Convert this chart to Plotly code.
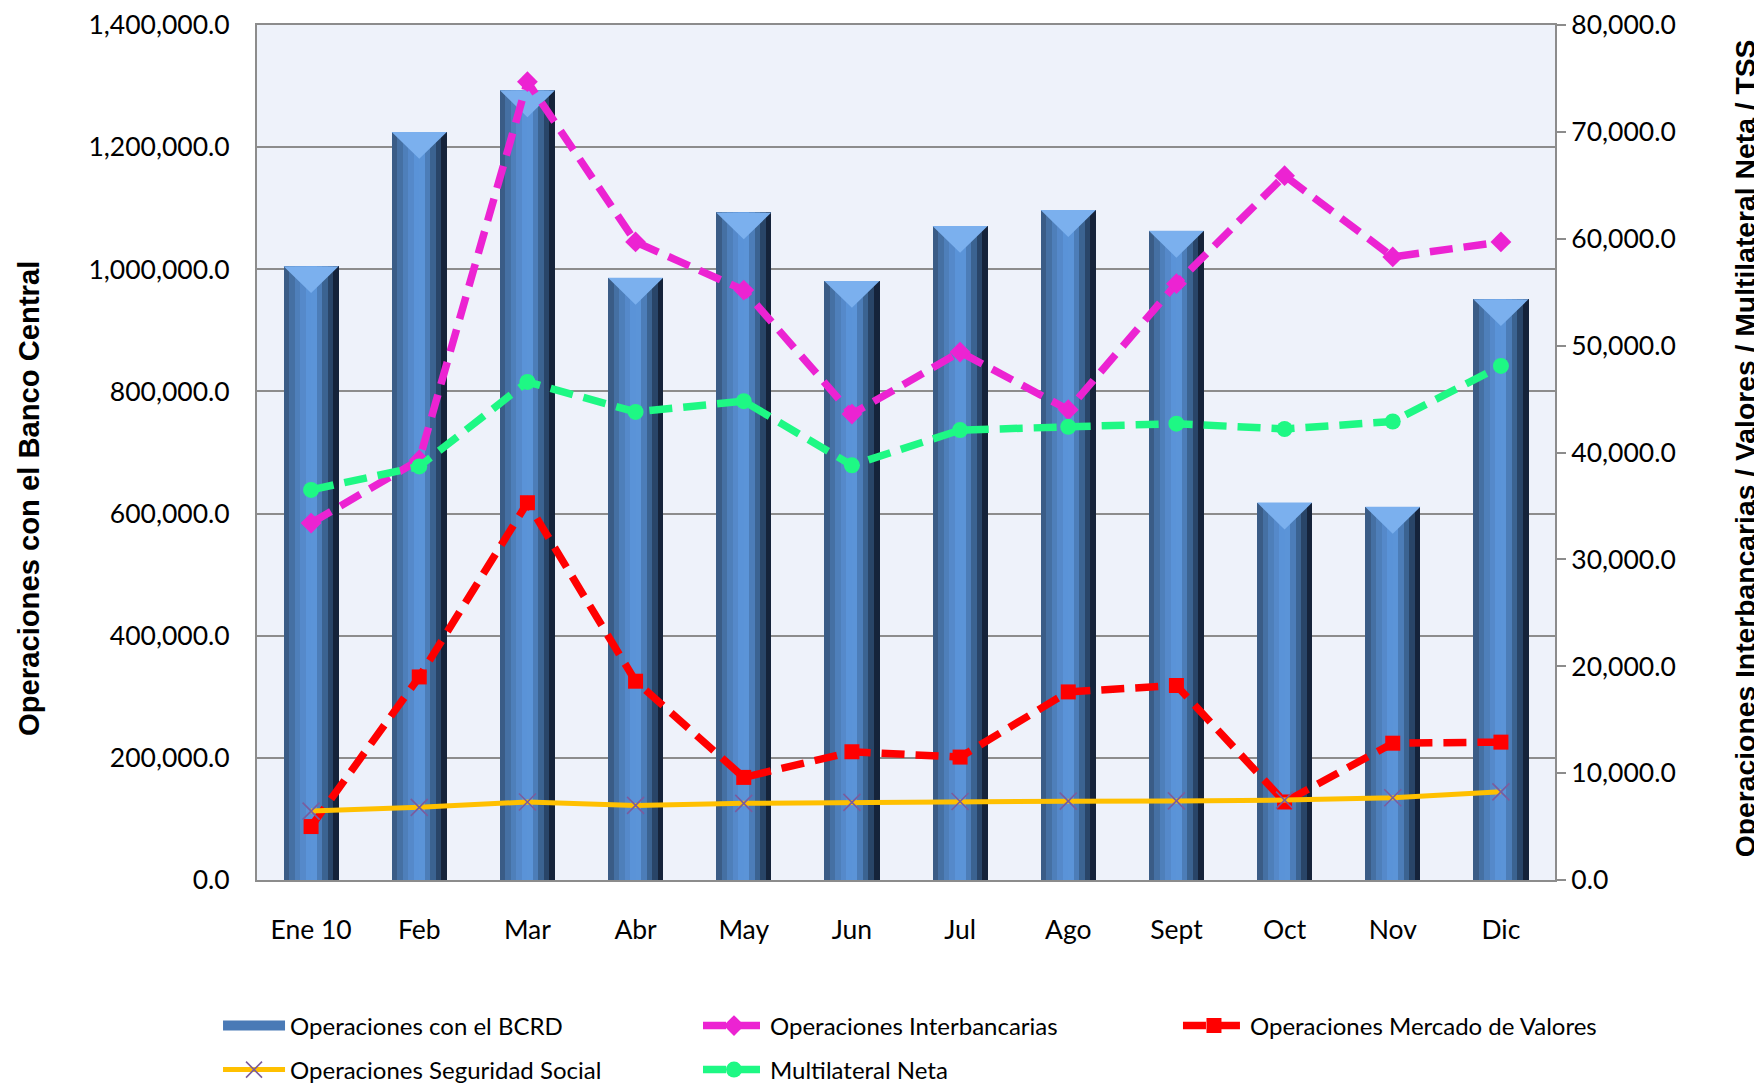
import plotly.graph_objects as go

months = ["Ene 10", "Feb", "Mar", "Abr", "May", "Jun", "Jul", "Ago", "Sept", "Oct", "Nov", "Dic"]
bcrd = [1005000, 1225000, 1293000, 986000, 1093000, 981000, 1071000, 1097000, 1063000, 618000, 611000, 951000]
interbancarias = [33400, 39300, 74700, 59700, 55200, 43600, 49400, 44000, 55800, 65900, 58300, 59700]
valores = [5000, 19000, 35300, 18600, 9600, 12000, 11500, 17600, 18200, 7300, 12800, 12900]
seguridad = [6450, 6800, 7300, 6980, 7170, 7260, 7350, 7380, 7400, 7480, 7700, 8250]
multilateral = [36500, 38700, 46600, 43800, 44800, 38800, 42100, 42400, 42700, 42200, 42900, 48100]

left_ticks = list(range(0, 1400001, 200000))
right_ticks = list(range(0, 80001, 10000))

xs = list(range(len(months)))
fig = go.Figure()

# cylinder-like bars built from vertical strips of the same data
strip_colors = ["#3A5C86", "#4570A3", "#4E7FBA", "#5589CA", "#5A93D8",
                "#5B94D8", "#4C7DB8", "#3B6391", "#294568", "#15233A"]
bw = 0.51
n = len(strip_colors)
for k, c in enumerate(strip_colors):
    fig.add_trace(go.Bar(
        x=xs, y=bcrd, width=bw / n, offset=-bw / 2 + k * bw / n,
        marker=dict(color=c, line=dict(width=0)),
        name="Operaciones con el BCRD", showlegend=False,
        hoverinfo="skip" if k != 4 else None,
    ))

# light triangular cap at the top of each bar
depth = 44000
tx, ty = [], []
for i, v in zip(xs, bcrd):
    tx += [i - bw / 2, i + bw / 2, i, None]
    ty += [v, v, v - depth, None]
fig.add_trace(go.Scatter(x=tx, y=ty, mode="lines", fill="toself",
                         fillcolor="#7BB0EE", line=dict(width=0),
                         showlegend=False, hoverinfo="skip"))

# legend entry for the bars
fig.add_trace(go.Scatter(x=[None], y=[None], mode="lines", name="Operaciones con el BCRD",
                         line=dict(color="#4A7AB6", width=10), legend="legend"))

dash = "23px,11px"
fig.add_trace(go.Scatter(
    x=xs, y=interbancarias, yaxis="y2", name="Operaciones Interbancarias", legend="legend2",
    mode="lines+markers", line=dict(color="#EC23D2", width=7.5, dash=dash),
    marker=dict(symbol="diamond", size=16, color="#EC23D2")))
fig.add_trace(go.Scatter(
    x=xs, y=valores, yaxis="y2", name="Operaciones Mercado de Valores", legend="legend3",
    mode="lines+markers", line=dict(color="#FF0000", width=7.5, dash=dash),
    marker=dict(symbol="square", size=15, color="#FF0000")))
fig.add_trace(go.Scatter(
    x=xs, y=seguridad, yaxis="y2", name="Operaciones Seguridad Social", legend="legend4",
    mode="lines+markers", line=dict(color="#FFC000", width=5),
    marker=dict(symbol="x-thin", size=17, line=dict(color="#7A5C9E", width=1.6), color="#7A5C9E")))
fig.add_trace(go.Scatter(
    x=xs, y=multilateral, yaxis="y2", name="Multilateral Neta", legend="legend5",
    mode="lines+markers", line=dict(color="#1EF884", width=7.5, dash=dash),
    marker=dict(symbol="circle", size=16, color="#1EF884")))

tickfont = dict(family="Lato, Carlito, Liberation Sans", size=26.5, color="black")
legfont = dict(family="Lato, Carlito, Liberation Sans", size=24, color="black")

legend_common = dict(orientation="h", xref="container", yref="container",
                     xanchor="left", yanchor="middle", itemwidth=62,
                     font=legfont, bgcolor="rgba(0,0,0,0)")

col_x = [0.1192, 0.3916, 0.664]
row_y = [0.0618, 0.0212]

fig.update_layout(
    width=1762, height=1085,
    margin=dict(l=249, r=215, t=17, b=213),
    paper_bgcolor="white", plot_bgcolor="#EEF2FA",
    barmode="overlay", bargap=0,
    xaxis=dict(range=[-0.5, 11.5], tickvals=xs, ticktext=months, showgrid=False,
               zeroline=False, showline=True, linecolor="#8C8C8C", linewidth=2,
               mirror=True, ticks="", tickfont=tickfont, ticklabelstandoff=25,
               automargin=False),
    yaxis=dict(range=[0, 1400000], tickvals=left_ticks, tickformat=",.1f",
               showgrid=True, gridcolor="#8C8C8C", gridwidth=2, zeroline=False,
               showline=True, linecolor="#8C8C8C", linewidth=2, ticks="",
               tickfont=tickfont, ticklabelstandoff=20, automargin=False),
    yaxis2=dict(range=[0, 80000], tickvals=right_ticks, tickformat=",.1f",
                overlaying="y", side="right", showgrid=False, zeroline=False,
                showline=True, linecolor="#8C8C8C", linewidth=2,
                ticks="outside", ticklen=9, tickwidth=2, tickcolor="#8C8C8C",
                tickfont=tickfont, ticklabelstandoff=0, automargin=False),
    legend=dict(x=col_x[0], y=row_y[0], **legend_common),
    legend2=dict(x=col_x[1], y=row_y[0], **legend_common),
    legend3=dict(x=col_x[2], y=row_y[0], **legend_common),
    legend4=dict(x=col_x[0], y=row_y[1], **legend_common),
    legend5=dict(x=col_x[1], y=row_y[1], **legend_common),
    showlegend=True,
    annotations=[
        dict(text="<b>Operaciones con el Banco Central</b>", xref="paper", yref="paper",
             x=-0.1757, y=0.4468, xanchor="center", yanchor="middle", textangle=-90,
             showarrow=False, font=dict(family="Liberation Sans, Arial", size=29.2, color="black")),
        dict(text="<b>Operaciones Interbancarias / Valores / Multilateral Neta / TSS</b>",
             xref="paper", yref="paper", x=1.147, y=0.5047, xanchor="center", yanchor="middle",
             textangle=-90, showarrow=False,
             font=dict(family="Liberation Sans, Arial", size=28.3, color="black")),
    ],
)

fig.write_html("out.html")
